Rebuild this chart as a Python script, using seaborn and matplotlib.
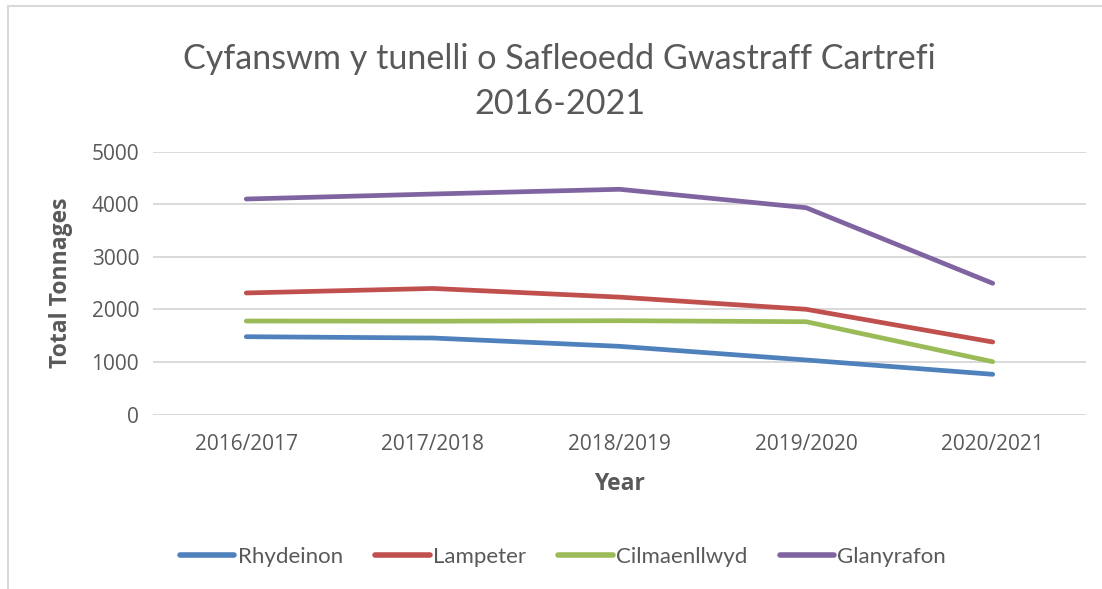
import seaborn as sns, pandas as pd, matplotlib.pyplot as plt
from matplotlib.patches import Rectangle

years = ['2016/2017', '2017/2018', '2018/2019', '2019/2020', '2020/2021']
sites = ['Rhydeinon', 'Lampeter', 'Cilmaenllwyd', 'Glanyrafon']
rhydeinon = [1483, 1458, 1300, 1040, 768]
lampeter = [2314, 2400, 2235, 2004, 1382]
cilmaenllwyd = [1781, 1778, 1787, 1768, 1008]
glanyrafon = [4100, 4195, 4285, 3935, 2498]
colours = ['#4F81BD', '#C0504D', '#9BBB59', '#8064A2']

df = pd.DataFrame({
    'Year': years * 4,
    'Site': [s for s in sites for _ in years],
    'Tonnes': rhydeinon + lampeter + cilmaenllwyd + glanyrafon,
})

sns.set_style('white')
grey = '#595959'

fig = plt.figure(figsize=(11.02, 5.89), dpi=100)
ax = fig.add_axes([0.1388, 0.2959, 0.8467, 0.4466])

sns.lineplot(data=df, x='Year', y='Tonnes', hue='Site', palette=colours,
             linewidth=3.4, sort=False, ax=ax, legend=False)

ax.set_xlim(-0.5, 4.5)
ax.set_ylim(0, 5000)
ax.set_yticks(range(0, 5001, 1000))
ax.grid(axis='y', color='#d9d9d9', linewidth=1.4)
ax.set_axisbelow(True)
for s in ax.spines.values():
    s.set_visible(False)
ax.tick_params(axis='both', length=0, labelsize=15, labelcolor=grey, pad=10)
for lab in ax.get_xticklabels() + ax.get_yticklabels():
    lab.set_family('Open Sans')
ax.tick_params(axis='x', pad=14)

ax.set_xlabel('Year', fontsize=16.5, fontweight='bold', color=grey,
              family='Open Sans', labelpad=12)
ax.set_ylabel('Total Tonnages', fontsize=16.5, fontweight='bold', color=grey,
              family='Open Sans', labelpad=13)

fig.text(0.508, 0.862, 'Cyfanswm y tunelli o Safleoedd Gwastraff Cartrefi\n2016-2021',
         ha='center', va='center', fontsize=24.6, color=grey, family='Lato',
         linespacing=1.48)

handles = [plt.Line2D([], [], color=c, linewidth=4, solid_capstyle='round') for c in colours]
fig.legend(handles, sites, loc='center', bbox_to_anchor=(0.511, 0.054), ncol=4,
           frameon=False, handlelength=2.45, handletextpad=0.15, columnspacing=1.45,
           prop={'family': 'Lato', 'size': 16}, labelcolor=grey)

fig.patches.append(Rectangle((8 / 1102, -0.1), 1.2, 1 - 6 / 589 + 0.1,
                             transform=fig.transFigure, fill=False,
                             edgecolor='#d9d9d9', linewidth=1.5))

fig.savefig('out.png', dpi=100)
